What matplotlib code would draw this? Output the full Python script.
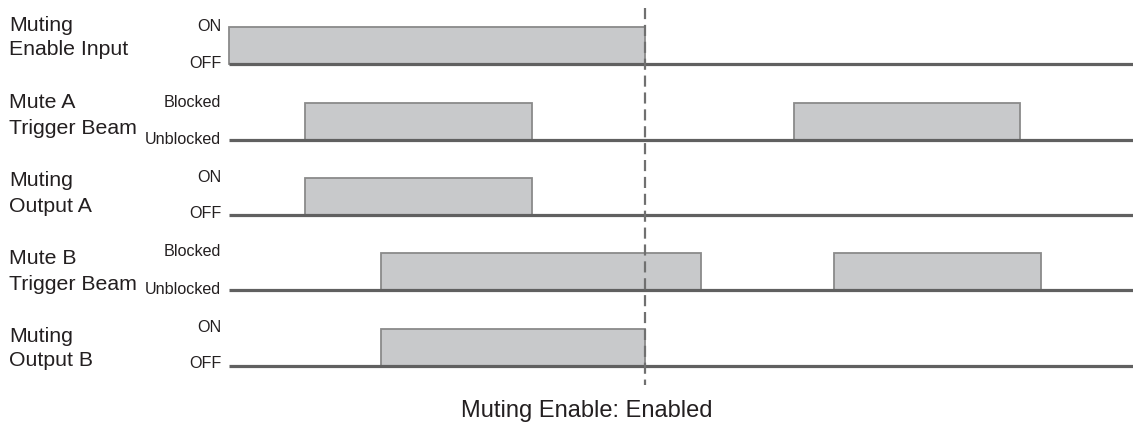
import matplotlib
matplotlib.use("Agg")
import matplotlib.pyplot as plt
from matplotlib.patches import Rectangle

plt.rcParams['font.family'] = ['Liberation Sans', 'DejaVu Sans']

# ---- data (time units along the timeline) ----
row_names = ["Muting\nEnable Input", "Mute A\nTrigger Beam", "Muting\nOutput A",
             "Mute B\nTrigger Beam", "Muting\nOutput B"]
high_labels = ["ON", "Blocked", "ON", "Blocked", "ON"]
low_labels = ["OFF", "Unblocked", "OFF", "Unblocked", "OFF"]
row1_pulses = [(0, 416)]
row2_pulses = [(76, 303), (565, 791)]
row3_pulses = [(76, 303)]
row4_pulses = [(152, 472), (605, 812)]
row5_pulses = [(152, 416)]
pulses = [row1_pulses, row2_pulses, row3_pulses, row4_pulses, row5_pulses]
enable_time = 416
t_end = 904
caption = "Muting Enable: Enabled"

# ---- layout ----
W, H = 1133, 428
fig = plt.figure(figsize=(W / 100, H / 100), dpi=100)
ax = fig.add_axes([0, 0, 1, 1])
ax.set_xlim(-229, W - 229)
ax.set_ylim(H, 0)
ax.axis('off')

baselines = [64, 140, 215, 290, 366]
pulse_h = 37
name_y = [(25, 49), (102, 128), (180, 206), (258, 284), (337, 361)]
low_off = [1, 0, 2, 1, 3]
txt_color = "#231f20"

for i, base in enumerate(baselines):
    for (s, e) in pulses[i]:
        ax.add_patch(Rectangle((s, base - pulse_h), e - s, pulse_h,
                               facecolor="#c8c9cb", edgecolor="#8a8a8a",
                               linewidth=1.3, zorder=2))
    ax.plot([0, t_end], [base, base], color="#606060", linewidth=2.3,
            solid_capstyle='butt', zorder=3)
    ax.text(-8, base - 38, high_labels[i], ha='right', va='center',
            fontsize=11.6, color=txt_color)
    ax.text(-8, base - low_off[i], low_labels[i], ha='right', va='center',
            fontsize=11.6, color=txt_color)
    l1, l2 = row_names[i].split("\n")
    ax.text(-220, name_y[i][0], l1, ha='left', va='center', fontsize=15.3, color=txt_color)
    ax.text(-220, name_y[i][1], l2, ha='left', va='center', fontsize=15.3, color=txt_color)

ax.plot([enable_time, enable_time], [8, 385], color="#707070", linewidth=1.6,
        linestyle=(0, (5, 2.6)), zorder=4)

ax.text(358, 411, caption, ha='center', va='center', fontsize=17, color=txt_color)

fig.savefig("out.png", dpi=100)
